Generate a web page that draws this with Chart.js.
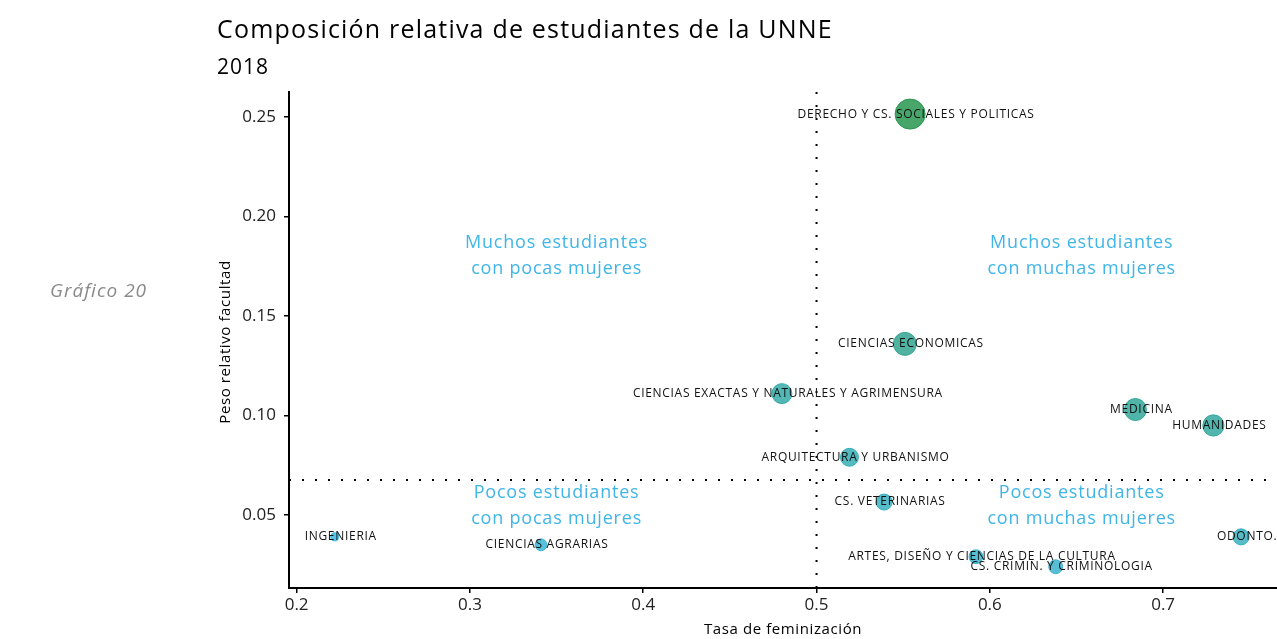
<!DOCTYPE html>
<html>
<head>
<meta charset="utf-8">
<script src="https://cdn.jsdelivr.net/npm/chart.js@4"></script>
<style>
  html, body { margin: 0; background: #fff; overflow: hidden; }
  canvas { display: block; }
</style>
</head>
<body>
<canvas id="grafico" width="1277" height="639"></canvas>
<script>
// Datos
const facultades = [
  "DERECHO Y CS. SOCIALES Y POLITICAS",
  "CIENCIAS ECONOMICAS",
  "CIENCIAS EXACTAS Y NATURALES Y AGRIMENSURA",
  "MEDICINA",
  "HUMANIDADES",
  "ARQUITECTURA Y URBANISMO",
  "CS. VETERINARIAS",
  "ODONTO.",
  "ARTES, DISEÑO Y CIENCIAS DE LA CULTURA",
  "CS. CRIMIN. Y CRIMINOLOGIA",
  "INGENIERIA",
  "CIENCIAS AGRARIAS"
];
const feminizacion = [0.554, 0.551, 0.480, 0.684, 0.729, 0.519, 0.539, 0.745, 0.592, 0.638, 0.222, 0.341];
const pesoRelativo = [0.2515, 0.136, 0.111, 0.103, 0.095, 0.079, 0.0565, 0.039, 0.029, 0.024, 0.039, 0.035];
// variable que da tamaño y color a cada circulo
const pesoMujeres = [0.140, 0.082, 0.062, 0.075, 0.070, 0.050, 0.040, 0.040, 0.030, 0.030, 0.010, 0.022];

const ticksX = [0.2, 0.3, 0.4, 0.5, 0.6, 0.7];
const ticksY = [0.05, 0.10, 0.15, 0.20, 0.25];

// lineas de corte de los cuadrantes
const corteFeminizacion = 0.5;
const cortePeso = 0.0676;

const cuadrantes = [
  { x: 0.35, y: 0.18, lineas: ["Muchos estudiantes", "con pocas mujeres"] },
  { x: 0.653, y: 0.18, lineas: ["Muchos estudiantes", "con muchas mujeres"] },
  { x: 0.35, y: 0.0545, lineas: ["Pocos estudiantes", "con pocas mujeres"] },
  { x: 0.653, y: 0.0545, lineas: ["Pocos estudiantes", "con muchas mujeres"] }
];

const FONT = "'Open Sans', 'Noto Sans', sans-serif";
const maxMujeres = Math.max(...pesoMujeres);
const minMujeres = Math.min(...pesoMujeres);

function radio(v) {
  return 15 * Math.sqrt(v / maxMujeres);
}

function color(v, alpha) {
  const t = (v - minMujeres) / (maxMujeres - minMujeres);
  const azul = [62, 184, 226];
  const verde = [40, 150, 80];
  const c = azul.map((a, i) => Math.round(a + (verde[i] - a) * t));
  return `rgba(${c[0]},${c[1]},${c[2]},${alpha})`;
}

const puntos = feminizacion.map((f, i) => ({ x: f, y: pesoRelativo[i] }));

const textosPlugin = {
  id: "textos",
  beforeDatasetsDraw(chart) {
    const { ctx, chartArea, scales } = chart;
    ctx.save();
    ctx.strokeStyle = "#000";
    ctx.lineWidth = 2;
    ctx.setLineDash([2, 11]);
    const vx = scales.x.getPixelForValue(corteFeminizacion);
    ctx.beginPath();
    ctx.moveTo(vx, chartArea.top);
    ctx.lineTo(vx, chartArea.bottom);
    ctx.stroke();
    const hy = scales.y.getPixelForValue(cortePeso);
    ctx.beginPath();
    ctx.moveTo(chartArea.left, hy);
    ctx.lineTo(chartArea.right, hy);
    ctx.stroke();
    ctx.setLineDash([]);

    ctx.fillStyle = "#3fb5e8";
    ctx.font = "18px " + FONT;
    ctx.letterSpacing = "0.8px";
    ctx.textAlign = "center";
    ctx.textBaseline = "middle";
    cuadrantes.forEach(q => {
      const px = scales.x.getPixelForValue(q.x);
      const py = scales.y.getPixelForValue(q.y);
      ctx.fillText(q.lineas[0], px, py - 13);
      ctx.fillText(q.lineas[1], px, py + 13);
    });
    ctx.restore();
  },
  afterDatasetsDraw(chart) {
    const { ctx, scales } = chart;
    ctx.save();
    ctx.fillStyle = "#111";
    ctx.font = "12px " + FONT;
    ctx.letterSpacing = "0.7px";
    ctx.textAlign = "center";
    ctx.textBaseline = "middle";
    facultades.forEach((nombre, i) => {
      const px = scales.x.getPixelForValue(feminizacion[i]);
      const py = scales.y.getPixelForValue(pesoRelativo[i]);
      ctx.fillText(nombre, px + 6, py);
    });
    ctx.restore();
  },
  afterDraw(chart) {
    const { ctx, chartArea } = chart;
    ctx.save();
    ctx.fillStyle = "#000";
    ctx.textAlign = "left";
    ctx.textBaseline = "alphabetic";
    ctx.font = "25px " + FONT;
    ctx.letterSpacing = "1.2px";
    ctx.fillText("Composición relativa de estudiantes de la UNNE", 217, 38);
    ctx.font = "21px " + FONT;
    ctx.letterSpacing = "1px";
    ctx.fillText("2018", 217, 74);

    ctx.fillStyle = "#8a8a8a";
    ctx.font = "italic 19px " + FONT;
    ctx.letterSpacing = "1px";
    ctx.fillText("Gráfico 20", 50, 297);

    ctx.fillStyle = "#000";
    ctx.font = "15px " + FONT;
    ctx.letterSpacing = "0.6px";
    ctx.textAlign = "center";
    ctx.textBaseline = "middle";
    ctx.fillText("Tasa de feminización", (chartArea.left + chartArea.right) / 2, 630);
    ctx.translate(226, 342);
    ctx.rotate(-Math.PI / 2);
    ctx.fillText("Peso relativo facultad", 0, 0);
    ctx.restore();
  }
};

const chart = new Chart(document.getElementById("grafico"), {
  type: "scatter",
  data: {
    datasets: [{
      data: puntos,
      pointRadius: c => radio(pesoMujeres[c.dataIndex]),
      backgroundColor: c => color(pesoMujeres[c.dataIndex], 0.85),
      borderColor: c => color(pesoMujeres[c.dataIndex], 1),
      borderWidth: 1
    }]
  },
  options: {
    responsive: false,
    maintainAspectRatio: false,
    animation: false,
    events: [],
    layout: { autoPadding: false, padding: { top: 92, left: 0, right: 0, bottom: 0 } },
    plugins: { legend: { display: false }, tooltip: { enabled: false } },
    scales: {
      x: {
        type: "linear",
        min: 0.1956,
        max: 0.7657,
        afterFit: s => { s.height = 51; s.paddingLeft = 0; s.paddingRight = 0; },
        afterBuildTicks: s => { s.ticks = ticksX.map(v => ({ value: v })); },
        ticks: {
          color: "#222",
          font: { size: 17, family: FONT },
          padding: 2,
          callback: v => v.toFixed(1)
        },
        grid: { drawOnChartArea: false, tickLength: 5, color: "#000", lineWidth: 1.5 },
        border: { display: true, color: "#000", width: 2 }
      },
      y: {
        type: "linear",
        min: 0.0133,
        max: 0.2626,
        afterFit: s => { s.width = 289; s.paddingTop = 0; s.paddingBottom = 0; },
        afterBuildTicks: s => { s.ticks = ticksY.map(v => ({ value: v })); },
        ticks: {
          color: "#222",
          font: { size: 17, family: FONT },
          padding: 8,
          callback: v => v.toFixed(2)
        },
        grid: { drawOnChartArea: false, tickLength: 5, color: "#000", lineWidth: 1.5 },
        border: { display: true, color: "#000", width: 2 }
      }
    }
  },
  plugins: [textosPlugin]
});
</script>
</body>
</html>
